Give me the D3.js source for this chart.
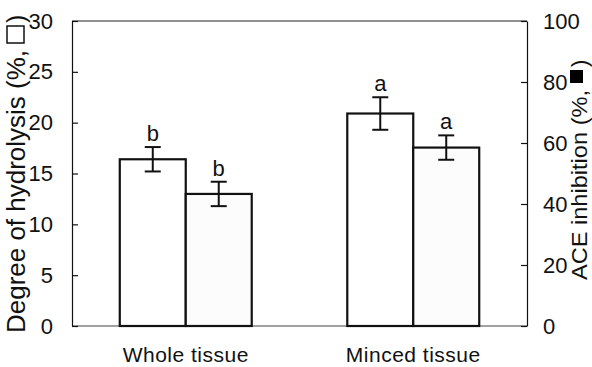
<!DOCTYPE html>
<html>
<head>
<meta charset="utf-8">
<script src="https://cdn.jsdelivr.net/npm/d3@7"></script>
<style>
  body { margin: 0; background: #fff; }
  svg { display: block; font-family: "Liberation Sans", Arial, sans-serif; }
</style>
</head>
<body>
<div id="chart"></div>
<script>
// data
var categories = ["Whole tissue", "Minced tissue"];
var dhValues = [16.4, 20.9];      // degree of hydrolysis (%), left axis
var dhErrors = [1.2, 1.6];
var aceValues = [43.3, 58.5];     // ACE inhibition (%), right axis
var aceErrors = [4.0, 4.0];
var dhLetters = ["b", "a"];
var aceLetters = ["b", "a"];
var leftTicks = [0, 5, 10, 15, 20, 25, 30];
var rightTicks = [0, 20, 40, 60, 80, 100];

var width = 592, height = 367;
var margin = {top: 21, right: 65, bottom: 41, left: 72};
var plotW = width - margin.left - margin.right,
    plotH = height - margin.top - margin.bottom;

var svg = d3.select("#chart").append("svg")
    .attr("width", width)
    .attr("height", height);

var g = svg.append("g")
    .attr("transform", "translate(" + margin.left + "," + margin.top + ")");

// scales
var x = d3.scaleBand()
    .domain(categories)
    .range([0, plotW])
    .paddingInner(0.42)
    .paddingOuter(0.21);

var xSub = d3.scaleBand()
    .domain(["dh", "ace"])
    .range([0, x.bandwidth()]);

var yL = d3.scaleLinear().domain([0, 30]).range([plotH, 0]);
var yR = d3.scaleLinear().domain([0, 100]).range([plotH, 0]);

// rows for the bars
var rows = [];
categories.forEach(function(c, i) {
  rows.push({cat: c, key: "dh", v: dhValues[i], e: dhErrors[i], lab: dhLetters[i], y: yL});
  rows.push({cat: c, key: "ace", v: aceValues[i], e: aceErrors[i], lab: aceLetters[i], y: yR});
});

// frame: top line and bottom baseline
g.append("line")
    .attr("x1", 0).attr("x2", plotW)
    .attr("y1", 0).attr("y2", 0)
    .attr("stroke", "#222").attr("stroke-width", 1.2);
g.append("line")
    .attr("x1", 0).attr("x2", plotW)
    .attr("y1", plotH).attr("y2", plotH)
    .attr("stroke", "#444").attr("stroke-width", 1.2);

// bars
g.selectAll("rect.bar")
    .data(rows)
  .enter().append("rect")
    .attr("class", "bar")
    .attr("x", function(d) { return x(d.cat) + xSub(d.key); })
    .attr("width", xSub.bandwidth())
    .attr("y", function(d) { return d.y(d.v); })
    .attr("height", function(d) { return plotH - d.y(d.v); })
    .attr("fill", function(d) { return d.key == "dh" ? "#fff" : "#fcfcfc"; })
    .attr("stroke", "#111")
    .attr("stroke-width", 2.2);

// error bars
var eb = g.selectAll("g.err")
    .data(rows)
  .enter().append("g")
    .attr("class", "err")
    .attr("transform", function(d) { return "translate(" + (x(d.cat) + xSub(d.key) + xSub.bandwidth() / 2) + ",0)"; });

eb.append("line")
    .attr("y1", function(d) { return d.y(d.v + d.e); })
    .attr("y2", function(d) { return d.y(d.v - d.e); })
    .attr("stroke", "#111").attr("stroke-width", 2);
eb.append("line")
    .attr("x1", -8).attr("x2", 8)
    .attr("y1", function(d) { return d.y(d.v + d.e); })
    .attr("y2", function(d) { return d.y(d.v + d.e); })
    .attr("stroke", "#111").attr("stroke-width", 2);
eb.append("line")
    .attr("x1", -8).attr("x2", 8)
    .attr("y1", function(d) { return d.y(d.v - d.e); })
    .attr("y2", function(d) { return d.y(d.v - d.e); })
    .attr("stroke", "#111").attr("stroke-width", 2);

// significance letters
eb.append("text")
    .attr("y", function(d) { return d.y(d.v + d.e) - 6; })
    .attr("text-anchor", "middle")
    .style("font-size", "22px")
    .attr("fill", "#111")
    .text(function(d) { return d.lab; });

// left axis
var axL = g.append("g")
    .call(d3.axisLeft(yL).tickValues(leftTicks).tickSizeInner(-6).tickSizeOuter(0).tickPadding(19));
axL.selectAll("text").style("font-size", "22px").attr("fill", "#111");
axL.selectAll("line, path").attr("stroke", "#111").attr("stroke-width", 1.2);

// right axis
var axR = g.append("g")
    .attr("transform", "translate(" + plotW + ",0)")
    .call(d3.axisRight(yR).tickValues(rightTicks).tickSizeInner(-6).tickSizeOuter(0).tickPadding(16));
axR.selectAll("text").style("font-size", "22px").attr("fill", "#111");
axR.selectAll("line, path").attr("stroke", "#111").attr("stroke-width", 1.2);

// category labels
g.selectAll("text.cat")
    .data(categories)
  .enter().append("text")
    .attr("class", "cat")
    .attr("x", function(d) { return x(d) + x.bandwidth() / 2; })
    .attr("y", plotH + 36)
    .attr("text-anchor", "middle")
    .style("font-size", "21px")
    .style("letter-spacing", "0.5px")
    .attr("fill", "#111")
    .text(function(d) { return d; });

// axis titles: text, legend square, closing bracket (rotated, read bottom to top)
function axisTitle(tx, ty, fs, head, headLen, sq, filled) {
  var t = svg.append("g")
      .attr("transform", "translate(" + tx + "," + ty + ") rotate(-90)");
  t.append("text")
      .style("font-size", fs + "px")
      .attr("textLength", headLen)
      .attr("lengthAdjust", "spacingAndGlyphs")
      .attr("fill", "#111")
      .text(head);
  t.append("rect")
      .attr("x", headLen + sq.gap)
      .attr("y", -sq.lift - sq.size)
      .attr("width", sq.size)
      .attr("height", sq.size)
      .attr("fill", filled ? "#000" : "#fff")
      .attr("stroke", "#111")
      .attr("stroke-width", filled ? 0 : 1.5);
  t.append("text")
      .attr("x", headLen + sq.gap + sq.size + 3)
      .style("font-size", fs + "px")
      .attr("fill", "#111")
      .text(")");
}

axisTitle(25, 333, 25, "Degree of hydrolysis (%,", 283, {gap: 7, size: 17, lift: 1}, false);
axisTitle(587, 280, 22, "ACE inhibition (%,", 190, {gap: 7, size: 13, lift: 4}, true);
</script>
</body>
</html>
